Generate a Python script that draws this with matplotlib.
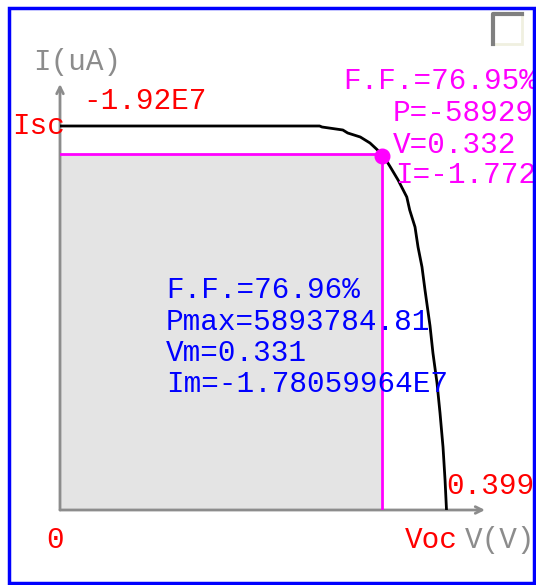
import matplotlib
matplotlib.use('Agg')
import matplotlib.pyplot as plt
from matplotlib.patches import Rectangle

W, H = 536, 585

# I-V curve (current shown as magnitude in uA)
volts = [0.0, 0.248, 0.268, 0.2705, 0.292, 0.297, 0.310, 0.320, 0.330, 0.3334,
         0.341, 0.349, 0.358, 0.361, 0.3665, 0.3696, 0.3737, 0.3768, 0.382,
         0.385, 0.3892, 0.3923, 0.3954, 0.3975, 0.399]
current = [1.92e7, 1.92e7, 1.92e7, 1.915e7, 1.90e7, 1.885e7, 1.865e7, 1.835e7,
           1.79e7, 1.775e7, 1.715e7, 1.65e7, 1.565e7, 1.50e7, 1.415e7, 1.315e7,
           1.215e7, 1.10e7, 0.92e7, 0.785e7, 0.635e7, 0.485e7, 0.315e7, 0.15e7, 0.0]

isc = 1.92e7
voc = 0.399
vm = 0.331
im = 1.78059964e7
pmax = 5893784.81
ff = 76.96

# cursor readout
cur_v = 0.332
cur_i = 1.772e7
cur_p = -5892926.4
cur_ff = 76.95

MONO = 'Liberation Mono'
FS = 21.2


def px(x, y):
    return x / W, 1 - y / H


fig = plt.figure(figsize=(W / 100, H / 100), dpi=100)
fig.patch.set_facecolor('white')

# axes: origin at (60, 510) px, arrow tips at x=485 and y=84
x0, y0 = 60, 510
vpp = voc / 386.5
ipp = isc / 384.0
ax = fig.add_axes([x0 / W, (H - y0) / H, (485 - x0) / W, (y0 - 84) / H])
ax.set_xlim(0, (485 - x0) * vpp)
ax.set_ylim(0, (y0 - 84) * ipp)
ax.axis('off')

axis_col = '#8c8c8c'
ax.annotate('', xy=(1, 0), xytext=(0, 0), xycoords='axes fraction',
            arrowprops=dict(arrowstyle='->', color=axis_col, lw=2,
                            shrinkA=0, shrinkB=0, mutation_scale=12))
ax.annotate('', xy=(0, 1), xytext=(0, 0), xycoords='axes fraction',
            arrowprops=dict(arrowstyle='->', color=axis_col, lw=2,
                            shrinkA=0, shrinkB=0, mutation_scale=12))

# max power rectangle
ax.add_patch(Rectangle((0, 0), vm, im, facecolor='#e4e4e4', edgecolor='none', zorder=1))

# cursor cross lines
ax.plot([0, cur_v], [im, im], color='#ff00ff', lw=2, zorder=3)
ax.plot([cur_v, cur_v], [0, im], color='#ff00ff', lw=2, zorder=3)

ax.plot(volts, current, color='black', lw=2, zorder=4)
ax.plot([cur_v], [cur_i], 'o', color='#ff00ff', ms=10.5, zorder=5)

txt = dict(family=MONO, fontsize=FS, va='baseline', ha='left')
fig.text(*px(33, 70), 'I(uA)', color='#8c8c8c', **txt)
fig.text(*px(83, 109), '-%.2fE7' % (isc / 1e7), color='#ff0000', **txt)
fig.text(*px(12, 134), 'Isc', color='#ff0000', **txt)
fig.text(*px(446, 494), '%.3f' % voc, color='#ff0000', **txt)
fig.text(*px(46, 548), '0', color='#ff0000', **txt)
fig.text(*px(405, 548), 'Voc', color='#ff0000', **txt)
fig.text(*px(465, 548), 'V(V)', color='#8c8c8c', **txt)

mag = ['F.F.=%.2f%%' % cur_ff, 'P=%.1f' % cur_p, 'V=%.3f' % cur_v,
       'I=%.3fE7' % (-cur_i / 1e7)]
mag_x = [343, 393, 393, 395]
mag_y = [89, 121, 153, 183]
for s, x, y in zip(mag, mag_x, mag_y):
    fig.text(*px(x, y), s, color='#ff00ff', zorder=6, **txt)

blue = ['F.F.=%.2f%%' % ff, 'Pmax=%.2f' % pmax, 'Vm=%.3f' % vm,
        'Im=%.8fE7' % (-im / 1e7)]
blue_y = [298, 330, 361, 392]
for s, y in zip(blue, blue_y):
    fig.text(*px(166, y), s, color='#0000ff', zorder=6, **txt)

# checkbox in the corner
bx, by, bw, bh = 493, 14, 29, 30
fig.patches.append(Rectangle(px(bx, by + bh), bw / W, bh / H, transform=fig.transFigure,
                             facecolor='white', edgecolor='#f0f0e0', lw=2))
fig.add_artist(plt.Line2D([px(bx, 0)[0], px(bx, 0)[0], px(bx + bw, 0)[0]],
                          [px(0, by + bh)[1], px(0, by)[1], px(0, by)[1]],
                          transform=fig.transFigure, color='#808080', lw=3))

# blue frame
fig.patches.append(Rectangle(px(9, 583), 525 / W, 575 / H, transform=fig.transFigure,
                             facecolor='none', edgecolor='#0000ff', lw=2.5, zorder=10))

fig.savefig('out.png', dpi=100, facecolor='white')
